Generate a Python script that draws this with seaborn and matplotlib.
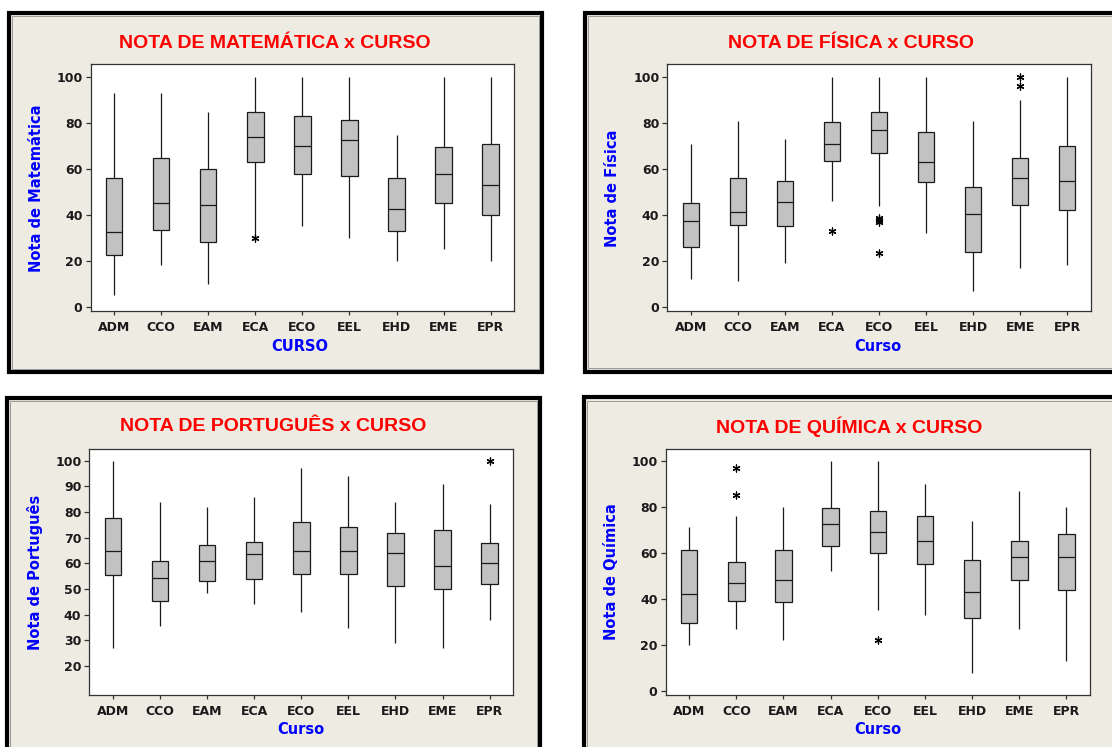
import numpy as np
import pandas as pd
import matplotlib
matplotlib.use("Agg")
import matplotlib.pyplot as plt
from matplotlib.patches import Rectangle
import seaborn as sns

# ---- data -------------------------------------------------------------
cursos = ["ADM", "CCO", "EAM", "ECA", "ECO", "EEL", "EHD", "EME", "EPR"]

# Matemática: whisker ends, quartiles and medians per course
mat_min = [5, 18, 10, 31, 35, 30, 20, 25, 20]
mat_q1 = [22.5, 33.5, 28, 63, 58, 57, 33, 45, 40]
mat_med = [32.5, 45, 44.5, 74, 70, 72.5, 42.5, 58, 53]
mat_q3 = [56, 65, 60, 85, 83, 81.5, 56, 69.5, 71]
mat_max = [93, 93, 85, 100, 100, 100, 75, 100, 100]
mat_out = [("ECA", 30)]

# Física
fis_min = [12, 11, 19, 46, 44, 32, 7, 17, 18]
fis_q1 = [26, 35.5, 35, 63.5, 67, 54.5, 24, 44.5, 42]
fis_med = [37.5, 41.5, 45.5, 71, 77, 63, 40.5, 56, 55]
fis_q3 = [45, 56, 55, 80.5, 85, 76, 52, 65, 70]
fis_max = [71, 81, 73, 100, 100, 100, 81, 90, 100]
fis_out = [("ECA", 33), ("ECO", 37), ("ECO", 38), ("ECO", 38.5), ("ECO", 23.5),
           ("EME", 100), ("EME", 96)]

# Português
por_min = [27, 35.5, 48.5, 44, 41, 35, 29, 27, 38]
por_q1 = [55.5, 45.5, 53, 54, 56, 56, 51, 50, 52]
por_med = [65, 54.5, 61, 63.5, 65, 65, 64, 59, 60]
por_q3 = [77.5, 61, 67, 68.5, 76, 74, 72, 73, 68]
por_max = [100, 84, 82, 86, 97, 94, 84, 91, 83]
por_out = [("EPR", 100)]

# Química
qui_min = [20, 27, 22, 52, 35, 33, 8, 27, 13]
qui_q1 = [29.5, 39, 38.5, 63, 60, 55, 31.5, 48, 44]
qui_med = [42, 47, 48, 72.5, 69, 65, 43, 58, 58]
qui_q3 = [61, 56, 61, 79.5, 78, 76, 57, 65, 68]
qui_max = [71, 76, 80, 100, 100, 90, 74, 87, 80]
qui_out = [("CCO", 97), ("CCO", 85), ("ECO", 22)]

# ---- style ------------------------------------------------------------
sns.set_theme(style="white")
plt.rcParams["font.family"] = ["DejaVu Sans"]

W, H = 1112, 747
BEIGE = "#EEEBE2"
BOX = "#C2C2C2"
INK = "#1a1a1a"
fig = plt.figure(figsize=(W / 100, H / 100), dpi=100, facecolor="white")


def fx(px):
    return px / W


def fy(py):
    return 1 - py / H


def frame(x0, y0, x1, y1):
    outer = Rectangle((fx(x0), fy(y1)), fx(x1) - fx(x0), fy(y0) - fy(y1),
                      transform=fig.transFigure, facecolor=BEIGE,
                      edgecolor="black", linewidth=3.0, zorder=0)
    fig.add_artist(outer)
    inner = Rectangle((fx(x0 + 3), fy(y1 - 3)), fx(x1 - 3) - fx(x0 + 3),
                      fy(y0 + 3) - fy(y1 - 3), transform=fig.transFigure,
                      facecolor="none", edgecolor="#9a9a9a", linewidth=0.7,
                      zorder=0.5)
    fig.add_artist(inner)


def panel(box, lo, q1, med, q3, hi, out, ylim, yticks, title, title_xy,
          ylabel, ylabel_xy, xlabel, xlabel_xy):
    l, t, r, b = box
    ax = fig.add_axes([fx(l), fy(b), fx(r) - fx(l), fy(t) - fy(b)])
    ax.set_facecolor("white")
    df = pd.DataFrame({
        "Curso": np.repeat(cursos, 5),
        "Nota": np.column_stack([lo, q1, med, q3, hi]).ravel(),
    })
    sns.boxplot(data=df, x="Curso", y="Nota", order=cursos, ax=ax,
                whis=(0, 100), width=0.35, color=BOX, saturation=1,
                linecolor=INK, linewidth=0.9, showcaps=False, fliersize=0)
    od = pd.DataFrame(out, columns=["Curso", "Nota"])
    sns.stripplot(data=od, x="Curso", y="Nota", order=cursos, ax=ax,
                  jitter=False, marker=(6, 2, 0), color="black", size=5,
                  linewidth=0.9, zorder=5)
    ax.set_xlim(-0.5, 8.5)
    ax.set_ylim(*ylim)
    ax.set_yticks(yticks, labels=[str(v) for v in yticks],
                  fontweight="bold", color=INK)
    ax.set_xticks(range(len(cursos)), labels=cursos, fontweight="bold",
                  color=INK)
    ax.tick_params(axis="both", direction="out", labelsize=9, width=0.9,
                   color="#333333", pad=2.5)
    ax.tick_params(axis="y", length=3.3, left=True)
    ax.tick_params(axis="x", length=2.8, bottom=True, pad=4)
    for s in ax.spines.values():
        s.set_visible(True)
        s.set_color("#333333")
        s.set_linewidth(0.9)

    w, h = r - l, b - t
    ax.set_xlabel(xlabel, color="#0000FF", fontsize=10.5, fontweight="bold")
    ax.xaxis.set_label_coords((xlabel_xy[0] - l) / w, (b - xlabel_xy[1]) / h)
    ax.xaxis.label.set_verticalalignment("center")
    ax.set_ylabel(ylabel, color="#0000FF", fontsize=10.5, fontweight="bold")
    ax.yaxis.set_label_coords((ylabel_xy[0] - l) / w, (b - ylabel_xy[1]) / h)
    ax.yaxis.label.set_verticalalignment("center")

    fig.text(fx(title_xy[0]), fy(title_xy[1]), title, color="#FF0000",
             fontsize=14, fontweight="bold", family="Liberation Sans",
             ha="center", va="center")
    return ax


# panel frames
frame(9, 13.2, 541.7, 371.7)
frame(585.3, 13, 1125, 371.5)
frame(7, 397.6, 539.8, 760)
frame(584, 397.5, 1125, 760)

panel((90.5, 64, 514.2, 311.3), mat_min, mat_q1, mat_med, mat_q3, mat_max,
      mat_out, (-2, 105.8), [0, 20, 40, 60, 80, 100],
      "NOTA DE MATEMÁTICA x CURSO", (274.5, 43),
      "Nota de Matemática", (36.8, 188), "CURSO", (300, 346.7))

panel((667.4, 64, 1090.6, 311.3), fis_min, fis_q1, fis_med, fis_q3, fis_max,
      fis_out, (-2, 105.8), [0, 20, 40, 60, 80, 100],
      "NOTA DE FÍSICA x CURSO", (851, 43),
      "Nota de Física", (612.8, 188), "Curso", (878, 346.7))

panel((89.4, 448.7, 513.2, 695.3), por_min, por_q1, por_med, por_q3, por_max,
      por_out, (8.6, 104.7), [20, 30, 40, 50, 60, 70, 80, 90, 100],
      "NOTA DE PORTUGUÊS x CURSO", (273.6, 426.7),
      "Nota de Português", (35, 572), "Curso", (300.8, 730))

panel((665.6, 448.7, 1090, 695.3), qui_min, qui_q1, qui_med, qui_q3, qui_max,
      qui_out, (-1.9, 105.2), [0, 20, 40, 60, 80, 100],
      "NOTA DE QUÍMICA x CURSO", (849.6, 426.7),
      "Nota de Química", (611, 571.7), "Curso", (877.5, 730))

fig.savefig("out.png", dpi=100, facecolor="white")
